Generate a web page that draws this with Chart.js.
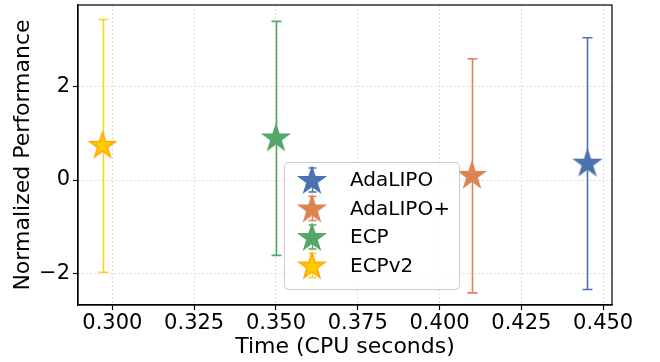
<!DOCTYPE html>
<html>
<head>
<meta charset="utf-8">
<script src="https://cdn.jsdelivr.net/npm/chart.js@4.4.1/dist/chart.umd.min.js"></script>
<style>
  html, body { margin: 0; padding: 0; background: #fff; }
  #wrap { width: 660px; height: 362px; }
</style>
</head>
<body>
<div id="wrap"><canvas id="chart"></canvas></div>
<script>
// data
const methods = ['AdaLIPO', 'AdaLIPO+', 'ECP', 'ECPv2'];
const cpuTime = [0.4452, 0.4099, 0.3500, 0.2970];
const perfMean = [0.35, 0.09, 0.89, 0.73];
const perfStd = [2.69, 2.50, 2.50, 2.70];
const xTicks = [0.300, 0.325, 0.350, 0.375, 0.400, 0.425, 0.450];
const yTicks = [-2, 0, 2];

const fillColors = ['#4c72b0', '#dd8452', '#55a868', '#ffcc00'];
const edgeColors = ['#4c72b0', '#dd8452', '#55a868', '#ffa500'];
const barColors = ['#4c72b0', '#dd8452', '#55a868', '#ffd21f'];
const FONT = "'DejaVu Sans', sans-serif";

function starPath(g, cx, cy, R) {
  const r = R * 0.382;
  g.beginPath();
  for (let k = 0; k < 10; k++) {
    const rad = k % 2 === 0 ? R : r;
    const a = -Math.PI / 2 + k * Math.PI / 5;
    const px = cx + rad * Math.cos(a), py = cy + rad * Math.sin(a);
    if (k === 0) g.moveTo(px, py); else g.lineTo(px, py);
  }
  g.closePath();
}

function starImage(fill, edge) {
  const R = 13.5, s = 32;
  const cv = document.createElement('canvas');
  cv.width = s; cv.height = s;
  const g = cv.getContext('2d');
  starPath(g, s / 2, s / 2, R);
  g.fillStyle = fill; g.fill();
  g.lineWidth = 1.5; g.lineJoin = 'miter'; g.strokeStyle = edge; g.stroke();
  return cv;
}

const stars = methods.map((m, i) => starImage(fillColors[i], edgeColors[i]));

const errorBars = {
  id: 'errorBars',
  beforeDatasetsDraw(chart) {
    const { ctx, scales: { x, y } } = chart;
    ctx.save();
    methods.forEach((m, i) => {
      const px = Math.round(x.getPixelForValue(cpuTime[i])) + 0.5;
      const top = y.getPixelForValue(perfMean[i] + perfStd[i]);
      const bot = y.getPixelForValue(perfMean[i] - perfStd[i]);
      ctx.strokeStyle = barColors[i];
      ctx.lineWidth = 1.6;
      ctx.beginPath();
      ctx.moveTo(px, top); ctx.lineTo(px, bot);
      ctx.moveTo(px - 5, top); ctx.lineTo(px + 5, top);
      ctx.moveTo(px - 5, bot); ctx.lineTo(px + 5, bot);
      ctx.stroke();
    });
    ctx.restore();
  }
};

const frameAndLegend = {
  id: 'frameAndLegend',
  afterDraw(chart) {
    const { ctx, chartArea: a } = chart;
    ctx.save();
    ctx.strokeStyle = '#000';
    ctx.lineWidth = 1.2;
    ctx.strokeRect(a.left, a.top, a.right - a.left, a.bottom - a.top);

    // legend box
    const bx = a.left + 206, by = a.top + 157, bw = 175, bh = 127;
    ctx.beginPath();
    ctx.roundRect(bx + 0.5, by + 0.5, bw, bh, 4);
    ctx.fillStyle = 'rgba(255,255,255,0.8)';
    ctx.fill();
    ctx.strokeStyle = '#cccccc';
    ctx.lineWidth = 1;
    ctx.stroke();

    ctx.font = '20px ' + FONT;
    ctx.textBaseline = 'middle';
    ctx.textAlign = 'left';
    methods.forEach((m, i) => {
      const cy = by + 18 + i * 28.5;
      const cx = bx + 28;
      ctx.strokeStyle = barColors[i];
      ctx.lineWidth = 1.5;
      ctx.beginPath();
      ctx.moveTo(cx + 0.5, cy - 12); ctx.lineTo(cx + 0.5, cy + 12);
      ctx.moveTo(cx - 3.5, cy - 12); ctx.lineTo(cx + 4.5, cy - 12);
      ctx.moveTo(cx - 3.5, cy + 12); ctx.lineTo(cx + 4.5, cy + 12);
      ctx.stroke();
      ctx.drawImage(stars[i], cx - 16, cy - 15);
      ctx.fillStyle = '#000';
      ctx.fillText(m, bx + 66, cy + 1);
    });
    ctx.restore();
  }
};

const datasets = methods.map((m, i) => ({
  label: m,
  data: [{ x: cpuTime[i], y: perfMean[i] }],
  pointStyle: stars[i],
  pointRadius: 14,
  showLine: false
}));

new Chart(document.getElementById('chart'), {
  type: 'scatter',
  data: { datasets: datasets },
  options: {
    responsive: true,
    maintainAspectRatio: false,
    animation: false,
    events: [],
    layout: { autoPadding: false, padding: { top: 5, right: 48, left: 0, bottom: 0 } },
    plugins: { legend: { display: false }, tooltip: { enabled: false } },
    scales: {
      x: {
        type: 'linear',
        min: 0.2895,
        max: 0.4527,
        afterBuildTicks: s => { s.ticks = xTicks.map(v => ({ value: v })); },
        afterFit: s => { s.height = 57; s.paddingLeft = 0; s.paddingRight = 0; },
        ticks: {
          color: '#000',
          font: { family: FONT, size: 21 },
          padding: 1,
          maxRotation: 0,
          callback: v => Number(v).toFixed(3)
        },
        grid: { color: '#d4d4d4', lineWidth: 0.8, tickLength: 5, tickColor: '#000', tickWidth: 1.2 },
        border: { color: '#000', width: 1.2, dash: [2, 2] },
        title: {
          display: true, text: 'Time (CPU seconds)', color: '#000',
          font: { family: FONT, size: 22 }, padding: { top: 0, bottom: 2 }
        }
      },
      y: {
        type: 'linear',
        min: -2.67,
        max: 3.74,
        afterBuildTicks: s => { s.ticks = yTicks.map(v => ({ value: v })); },
        afterFit: s => { s.width = 78; s.paddingTop = 0; s.paddingBottom = 0; },
        ticks: {
          color: '#000',
          font: { family: FONT, size: 21 },
          padding: 3,
          callback: v => v < 0 ? '\u2212' + Math.abs(v) : String(v)
        },
        grid: { color: '#d4d4d4', lineWidth: 0.8, tickLength: 5, tickColor: '#000', tickWidth: 1.2 },
        border: { color: '#000', width: 1.2, dash: [2, 2] },
        title: {
          display: true, text: 'Normalized Performance', color: '#000',
          font: { family: FONT, size: 22 }, padding: { top: 10, bottom: 0 }
        }
      }
    }
  },
  plugins: [errorBars, frameAndLegend]
});
</script>
</body>
</html>
